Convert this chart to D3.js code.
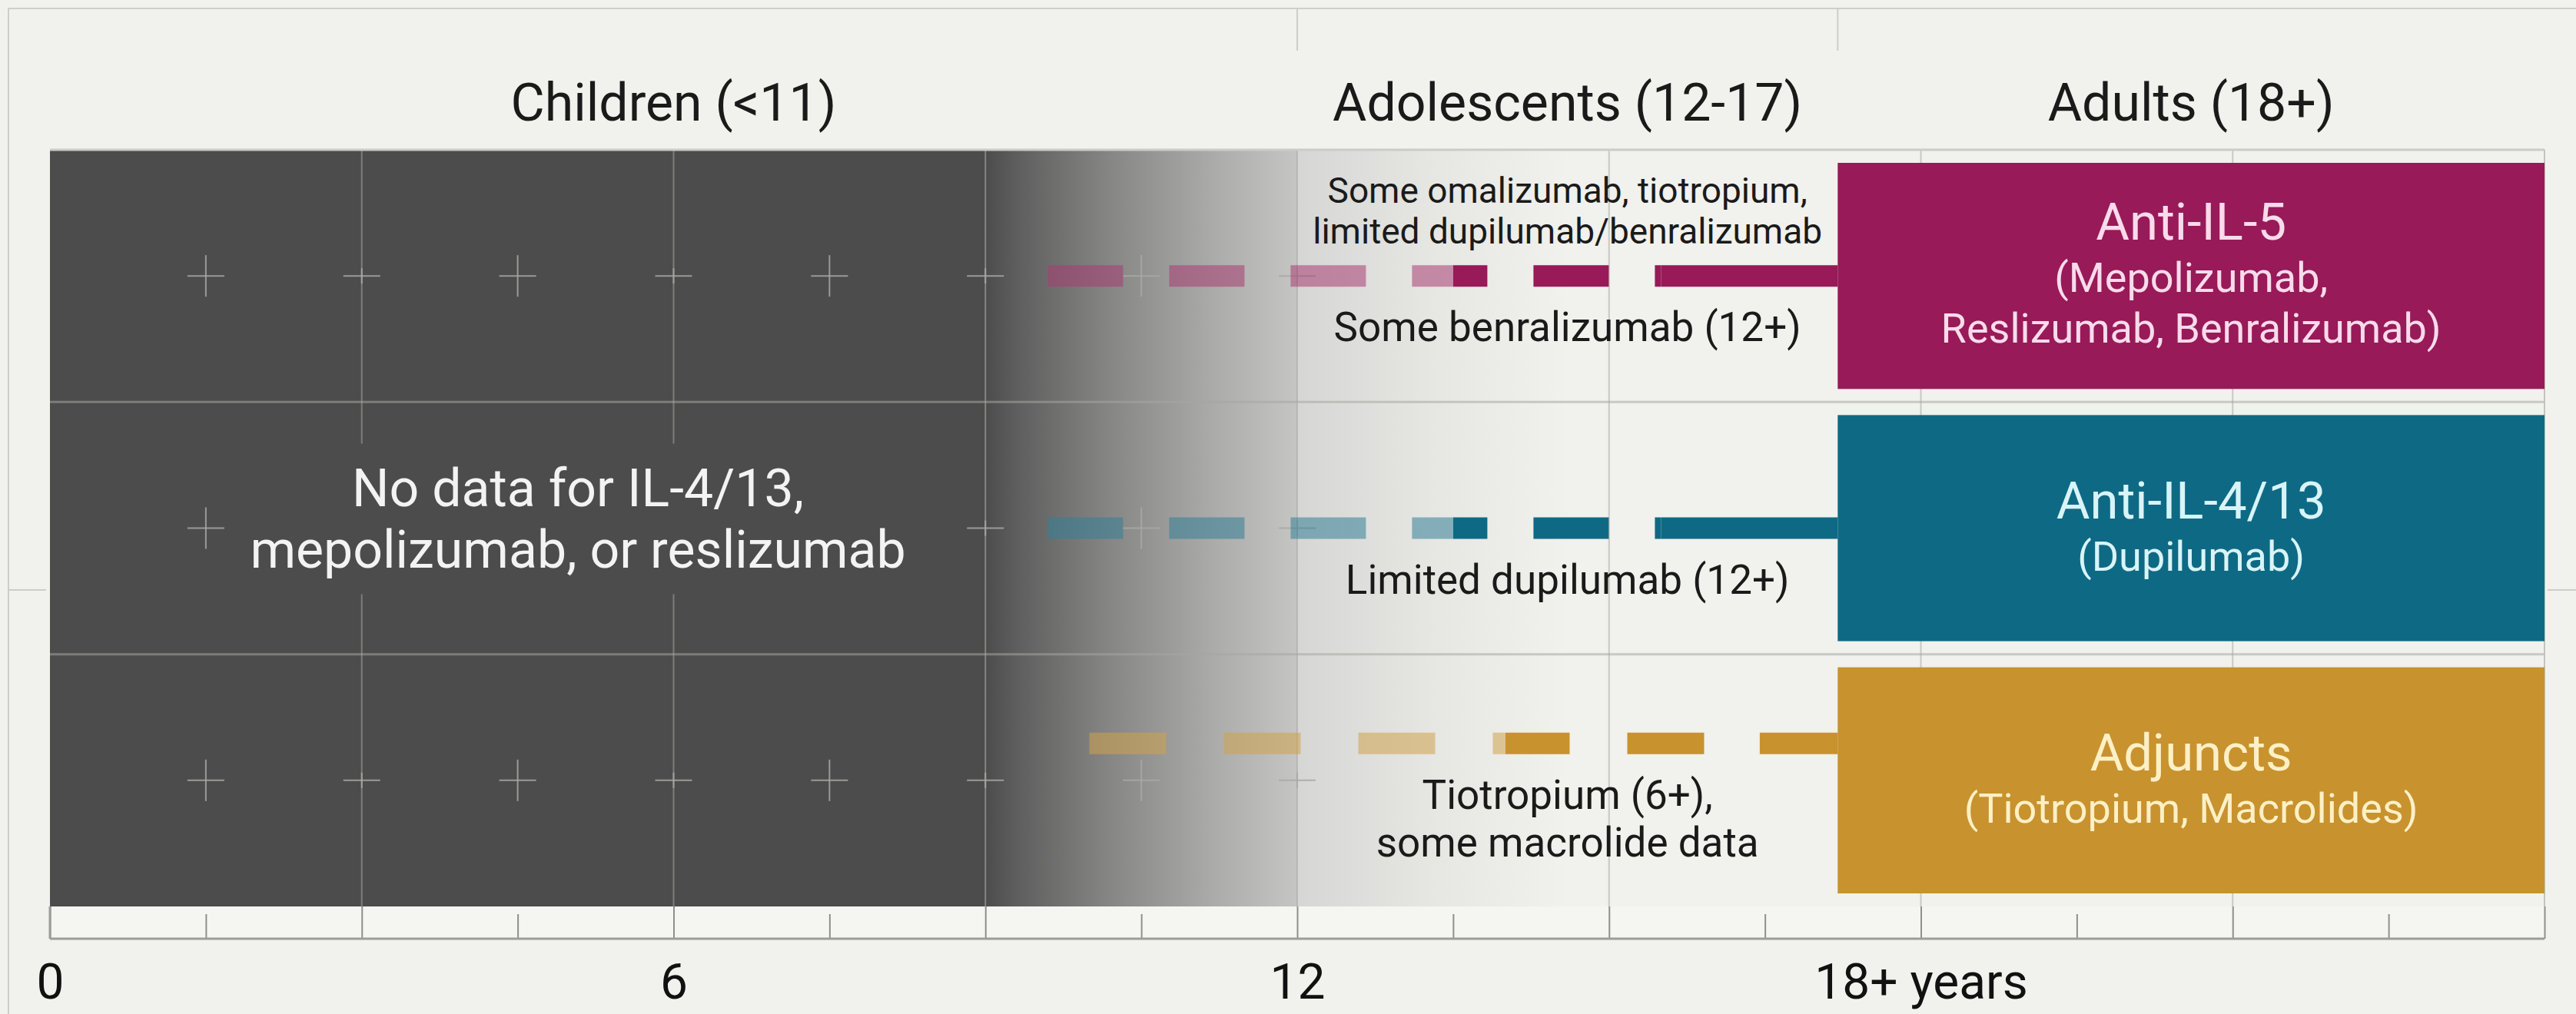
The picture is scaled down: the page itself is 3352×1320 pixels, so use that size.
<!DOCTYPE html>
<html>
<head>
<meta charset="utf-8">
<script src="https://cdn.jsdelivr.net/npm/d3@7"></script>
<style>
  html, body { margin: 0; padding: 0; background: #f1f1ed; }
  svg { display: block; font-family: Roboto, 'Noto Sans', sans-serif; }
</style>
</head>
<body>
<div id="chart"></div>
<script>
// age axis (years)
const ageTicks = [0, 6, 12, 18];
const ageTickLabels = ['0', '6', '12', '18+ years'];
const ageMax = 24;

const ageGroups = ['Children (<11)', 'Adolescents (12-17)', 'Adults (18+)'];
const ageGroupCenters = [6, 14.6, 20.6];

// adult therapy classes
const therapies = ['Anti-IL-5', 'Anti-IL-4/13', 'Adjuncts'];
const therapyAgents = [
  ['(Mepolizumab,', 'Reslizumab, Benralizumab)'],
  ['(Dupilumab)'],
  ['(Tiotropium, Macrolides)']
];
const adultFrom = 17.2;

// adolescent evidence: faded from start, firmer from "firm", continuous from "solid"
const evidenceStart = [9.6, 9.6, 10];
const evidenceFirm = [13.5, 13.5, 14];
const evidenceSolid = [15.5, 15.5, 16.45];

const notesAbove = [['Some omalizumab, tiotropium,', 'limited dupilumab/benralizumab'], [], []];
const notesBelow = [['Some benralizumab (12+)'], ['Limited dupilumab (12+)'], ['Tiotropium (6+),', 'some macrolide data']];
const notesCenter = 14.6;

const childNote = ['No data for IL-4/13,', 'mepolizumab, or reslizumab'];
const childNoteCenter = 5.08;
const noDataUntil = 9;

const colors = ['#981a58', '#0e6a84', '#c8922e'];
const boxTextColors = ['#f9dbeb', '#d9f4f8', '#fdf0c6'];
const dashStyles = ['98 60', '98 60', '100 75'];
const bg = '#f1f1ed';
const darkFill = '#4c4c4c';
const gridColor = '#a5a5a3';

(function () {
  const width = 3352, height = 1320;
  const plotTop = 195, plotBottom = 1180, stripBottom = 1222;

  const x = d3.scaleLinear().domain([0, ageMax]).range([65, 3311]);
  const y = d3.scaleBand().domain(therapies).range([plotTop, plotBottom]);
  const bw = y.bandwidth();
  const rowCenter = function (t) { return y(t) + bw / 2; };

  const svg = d3.select('#chart').append('svg')
    .attr('width', width)
    .attr('height', height);

  svg.append('rect').attr('width', width).attr('height', height).attr('fill', bg);

  const defs = svg.append('defs');

  // outer frame remnants
  const frame = svg.append('g').attr('stroke', '#cdcdc9').attr('stroke-width', 2);
  frame.append('line').attr('x1', 11).attr('x2', width).attr('y1', 11).attr('y2', 11);
  frame.append('line').attr('x1', 11).attr('x2', 11).attr('y1', 11).attr('y2', height);
  [12, adultFrom].forEach(function (d) {
    frame.append('line').attr('x1', x(d)).attr('x2', x(d)).attr('y1', 11).attr('y2', 66);
  });
  frame.append('line').attr('x1', 11).attr('x2', 60).attr('y1', 768).attr('y2', 768);
  frame.append('line').attr('x1', x(ageMax) + 4).attr('x2', width).attr('y1', 768).attr('y2', 768);

  // no-data region and fade
  svg.append('rect')
    .attr('x', x(0)).attr('y', plotTop)
    .attr('width', x(noDataUntil) - x(0)).attr('height', plotBottom - plotTop)
    .attr('fill', darkFill);

  const fadeA = defs.append('linearGradient').attr('id', 'fade-a')
    .attr('x1', 0).attr('x2', 1).attr('y1', 0).attr('y2', 0);
  [[0, '#4c4c4c'], [0.1, '#5e5e5e'], [0.4, '#868685'], [0.75, '#adadab'], [1, '#c5c5c3']].forEach(function (s) {
    fadeA.append('stop').attr('offset', s[0]).attr('stop-color', s[1]);
  });
  svg.append('rect')
    .attr('x', x(noDataUntil)).attr('y', plotTop)
    .attr('width', x(12) - x(noDataUntil)).attr('height', plotBottom - plotTop)
    .attr('fill', 'url(#fade-a)');

  const fadeB = defs.append('linearGradient').attr('id', 'fade-b')
    .attr('x1', 0).attr('x2', 1).attr('y1', 0).attr('y2', 0);
  [[0, '#d6d6d4'], [0.5, '#e6e6e3'], [1, bg]].forEach(function (s) {
    fadeB.append('stop').attr('offset', s[0]).attr('stop-color', s[1]);
  });
  svg.append('rect')
    .attr('x', x(12)).attr('y', plotTop)
    .attr('width', x(14.6) - x(12)).attr('height', plotBottom - plotTop)
    .attr('fill', 'url(#fade-b)');

  // grid
  const grid = svg.append('g').attr('stroke', gridColor).attr('stroke-opacity', 0.55);
  grid.selectAll('line.v')
    .data(d3.range(3, ageMax + 0.01, 3))
    .enter().append('line')
    .attr('class', 'v')
    .attr('x1', function (d) { return x(d); })
    .attr('x2', function (d) { return x(d); })
    .attr('y1', plotTop).attr('y2', plotBottom)
    .attr('stroke-width', 2);
  grid.selectAll('line.h')
    .data(therapies.slice(1))
    .enter().append('line')
    .attr('class', 'h')
    .attr('x1', x(0)).attr('x2', x(ageMax))
    .attr('y1', function (d) { return y(d); })
    .attr('y2', function (d) { return y(d); })
    .attr('stroke-width', 3);

  svg.append('line')
    .attr('x1', x(0)).attr('x2', x(ageMax))
    .attr('y1', plotTop).attr('y2', plotTop)
    .attr('stroke', '#cbcbc7').attr('stroke-width', 3);
  svg.append('line')
    .attr('x1', x(ageMax)).attr('x2', x(ageMax))
    .attr('y1', plotTop).attr('y2', stripBottom)
    .attr('stroke', '#c3c3bf').attr('stroke-width', 2);

  // crosshair markers
  const marks = svg.append('g').attr('stroke', '#a8a8a6').attr('stroke-width', 2).attr('stroke-opacity', 0.85);
  therapies.forEach(function (t) {
    const cy = rowCenter(t);
    d3.range(1.5, 12.01, 1.5).forEach(function (d) {
      const armV = d % 3 === 0 ? 10 : 27;
      marks.append('line').attr('x1', x(d) - 24).attr('x2', x(d) + 24).attr('y1', cy).attr('y2', cy);
      marks.append('line').attr('x1', x(d)).attr('x2', x(d)).attr('y1', cy - armV).attr('y2', cy + armV);
    });
  });

  // children note
  const childG = svg.append('g');
  const childBg = childG.append('rect').attr('fill', darkFill);
  const childText = childG.append('text')
    .attr('text-anchor', 'middle')
    .style('font-size', '68px')
    .style('fill', '#f3f3f3');
  childNote.forEach(function (line, i) {
    childText.append('tspan')
      .attr('x', x(childNoteCenter))
      .attr('y', rowCenter(therapies[1]) - 29 + i * 80)
      .text(line);
  });
  const cb = childText.node().getBBox();
  childBg.attr('x', cb.x - 16).attr('y', cb.y - 18)
    .attr('width', cb.width + 32).attr('height', cb.height + 36);

  // adolescent evidence lines
  therapies.forEach(function (t, i) {
    const lineY = rowCenter(t) - (notesBelow[i].length > 1 ? 48 : 0);
    const x0 = x(evidenceStart[i]), x1 = x(evidenceSolid[i]);
    const faded = d3.interpolateRgb(colors[i], '#ffffff')(0.15);
    const split = (x(evidenceFirm[i]) - x0) / (x1 - x0);

    const grad = defs.append('linearGradient')
      .attr('id', 'ev-' + i)
      .attr('gradientUnits', 'userSpaceOnUse')
      .attr('x1', x0).attr('x2', x1).attr('y1', 0).attr('y2', 0);
    grad.append('stop').attr('offset', 0).attr('stop-color', faded).attr('stop-opacity', 0.55);
    grad.append('stop').attr('offset', split).attr('stop-color', faded).attr('stop-opacity', 0.55);
    grad.append('stop').attr('offset', split).attr('stop-color', colors[i]).attr('stop-opacity', 1);
    grad.append('stop').attr('offset', 1).attr('stop-color', colors[i]).attr('stop-opacity', 1);

    svg.append('line')
      .attr('x1', x0).attr('x2', x1)
      .attr('y1', lineY).attr('y2', lineY)
      .attr('stroke', 'url(#ev-' + i + ')')
      .attr('stroke-width', 28)
      .attr('stroke-dasharray', dashStyles[i]);

    svg.append('line')
      .attr('x1', x1).attr('x2', x(adultFrom))
      .attr('y1', lineY).attr('y2', lineY)
      .attr('stroke', colors[i])
      .attr('stroke-width', 28);

    // notes
    const above = notesAbove[i];
    above.forEach(function (line, k) {
      svg.append('text')
        .attr('x', x(notesCenter))
        .attr('y', lineY - 42 - (above.length - 1 - k) * 53)
        .attr('text-anchor', 'middle')
        .style('font-size', '46px')
        .style('fill', '#1a1a1a')
        .text(line);
    });
    notesBelow[i].forEach(function (line, k) {
      svg.append('text')
        .attr('x', x(notesCenter))
        .attr('y', lineY + 85 + k * 62)
        .attr('text-anchor', 'middle')
        .style('font-size', '53px')
        .style('fill', '#1a1a1a')
        .text(line);
    });
  });

  // adult therapy boxes
  therapies.forEach(function (t, i) {
    const cy = rowCenter(t);
    svg.append('rect')
      .attr('x', x(adultFrom))
      .attr('y', y(t) + 17)
      .attr('width', x(ageMax) - x(adultFrom))
      .attr('height', bw - 34)
      .attr('fill', colors[i]);

    const subs = therapyAgents[i];
    const titleY = cy - 13 - (subs.length - 1) * 34;
    const cx = (x(adultFrom) + x(ageMax)) / 2;
    svg.append('text')
      .attr('x', cx).attr('y', titleY)
      .attr('text-anchor', 'middle')
      .style('font-size', '67px')
      .style('fill', boxTextColors[i])
      .text(t);
    subs.forEach(function (line, k) {
      svg.append('text')
        .attr('x', cx).attr('y', titleY + 68 + k * 66)
        .attr('text-anchor', 'middle')
        .style('font-size', '54px')
        .style('fill', boxTextColors[i])
        .text(line);
    });
  });

  // age group headers
  svg.selectAll('text.group')
    .data(ageGroups)
    .enter().append('text')
    .attr('class', 'group')
    .attr('x', function (d, i) { return x(ageGroupCenters[i]); })
    .attr('y', 157)
    .attr('text-anchor', 'middle')
    .style('font-size', '68px')
    .style('fill', '#1a1a1a')
    .text(function (d) { return d; });

  // axis strip
  svg.append('rect')
    .attr('x', x(0)).attr('y', plotBottom)
    .attr('width', x(ageMax) - x(0)).attr('height', stripBottom - plotBottom)
    .attr('fill', '#f5f5f2');

  const tickAxis = svg.append('g')
    .attr('transform', 'translate(0,' + stripBottom + ')')
    .call(d3.axisTop(x).tickValues(d3.range(0, ageMax + 0.01, 1.5)).tickSize(32).tickFormat(''));
  tickAxis.select('.domain').remove();
  tickAxis.selectAll('.tick line')
    .attr('y2', function (d) { return d % 3 === 0 ? -(stripBottom - plotBottom) : -32; })
    .attr('stroke', '#8f8f8d')
    .attr('stroke-width', 2);

  svg.append('line')
    .attr('x1', x(0)).attr('x2', x(ageMax))
    .attr('y1', stripBottom).attr('y2', stripBottom)
    .attr('stroke', '#9c9c9a').attr('stroke-width', 3);
  svg.append('line')
    .attr('x1', x(0)).attr('x2', x(0))
    .attr('y1', plotBottom).attr('y2', stripBottom)
    .attr('stroke', '#9c9c9a').attr('stroke-width', 3);

  const labelAxis = svg.append('g')
    .attr('transform', 'translate(0,' + 1247 + ')')
    .call(d3.axisBottom(x).tickValues(ageTicks).tickSize(0).tickPadding(8)
      .tickFormat(function (d, i) { return ageTickLabels[i]; }));
  labelAxis.select('.domain').remove();
  labelAxis.attr('font-size', null).attr('font-family', null);
  labelAxis.selectAll('text')
    .style('font-size', '64px')
    .style('fill', '#111');
}());
</script>
</body>
</html>
